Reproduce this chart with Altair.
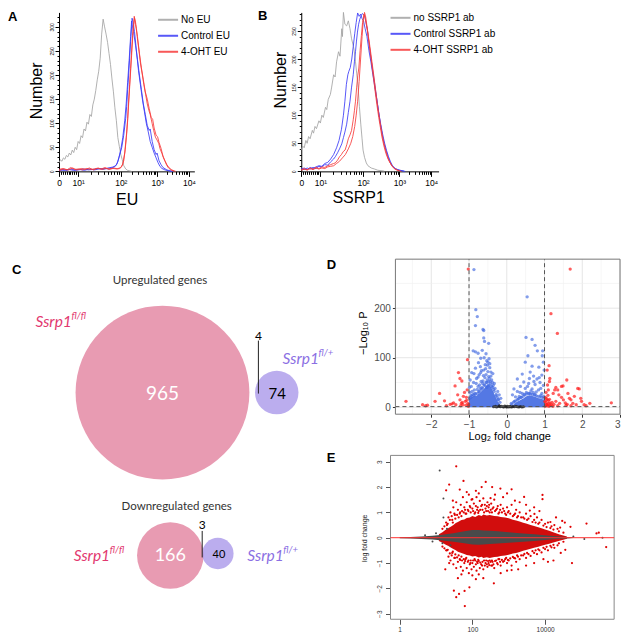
import math
import altair as alt
import pandas as pd

# ---------------- layout helpers (reference px -> chart px) ----------------
W, H = 613, 624


def X(px):
    return round((px - 3.0) * W / 625.0, 2)


def Y(py):
    return round((py - 4.0) * H / 636.0, 2)


SANS = "Liberation Sans"
VFONT = "Lato"

# ---------------- Panel A data : EU histograms (display channel, count) ----------------
A_NAMES = ["No EU", "Control EU", "4-OHT EU"]
B_NAMES = ["no SSRP1 ab", "Control SSRP1 ab", "4-OHT SSRP1 ab"]
FLOW_COLORS = ["#A3A3A3", "#3B3BF7", "#F73B3B"]

A_GRAY = [(0, 18), (1.5, 24), (3, 21), (4.5, 28), (6, 25), (7.5, 33), (9, 30), (10.5, 38), (12, 34),
          (13.5, 44), (15, 39), (16.5, 50), (18, 45), (19.5, 62), (21, 58), (22.5, 74), (24, 70),
          (25.5, 88), (27, 84), (28.5, 102), (30, 98), (31.5, 118), (33, 114), (34.5, 138), (36, 150),
          (37.5, 168), (39, 190), (40.5, 208), (42, 235), (43.5, 285), (45, 316), (46.5, 300), (48, 285),
          (49.5, 268), (51, 245), (52.5, 222), (54, 192), (55.5, 165), (57, 132), (58.5, 105), (60, 70),
          (61.5, 52), (63, 35), (64.5, 24), (66, 12), (68, 5), (70, 2), (74, 0)]
A_BLUE1 = [(0, 3), (5, 2), (10, 4), (15, 2), (20, 3), (25, 5), (30, 3), (35, 4), (40, 6), (45, 4), (50, 7),
           (55, 9), (58, 12), (60, 20), (62, 35), (64, 50), (66, 75), (68, 110), (69, 135), (70, 170),
           (71, 200), (72, 235), (73, 270), (74, 300), (74.5, 318), (75.5, 310), (77, 290), (79, 250),
           (81, 210), (83, 180), (85, 150), (87, 125), (89, 100), (91, 82), (93, 62), (95, 50), (97, 38),
           (99, 28), (101, 18), (103, 10), (105, 6), (108, 3), (112, 1), (116, 0)]
A_BLUE2 = [(0, 2), (4, 4), (8, 2), (12, 5), (16, 3), (21, 4), (26, 2), (31, 5), (36, 3), (41, 5), (46, 6),
           (51, 5), (55, 8), (57, 10), (59, 15), (61, 28), (63, 45), (65, 70), (67, 105), (68.5, 140),
           (70, 185), (71.5, 230), (73, 280), (74, 312), (75, 300), (76, 290), (78, 262), (80, 232),
           (82, 200), (84, 170), (86, 140), (88, 118), (90, 95), (92, 85), (93, 88), (95, 62), (97, 45),
           (99, 35), (100, 38), (102, 22), (104, 14), (106, 8), (110, 3), (115, 0)]
A_RED1 = [(0, 4), (4, 6), (8, 3), (12, 8), (16, 4), (20, 5), (24, 3), (28, 6), (32, 4), (36, 5), (40, 7),
          (44, 4), (48, 6), (52, 5), (56, 7), (60, 5), (62, 6), (64, 10), (66, 22), (67.5, 45), (69, 78),
          (70, 110), (71, 146), (72, 180), (73, 214), (74, 250), (75, 282), (76, 305), (76.7, 322),
          (78, 310), (79, 296), (80, 275), (81.7, 248), (83, 225), (85, 200), (86.5, 180), (88.3, 160),
          (90, 140), (91.7, 126), (93, 118), (95, 99), (96.5, 85), (98.3, 71), (100, 65), (101.7, 58),
          (103, 47), (105, 37), (106.5, 28), (108.3, 20), (110, 12), (111.7, 7), (114, 3), (117, 0.5)]
A_RED2 = [(0, 2), (5, 5), (10, 3), (14, 7), (18, 3), (23, 6), (27, 4), (31, 7), (35, 3), (39, 6), (43, 5),
          (47, 8), (51, 4), (55, 6), (59, 5), (63, 8), (65, 15), (67, 38), (68.5, 70), (70, 105), (71, 140),
          (72.5, 190), (74, 240), (75.5, 290), (77, 318), (78, 305), (80, 280), (82, 245), (84, 215),
          (86, 190), (88, 165), (90, 150), (92, 130), (94, 112), (95.5, 108), (97, 90), (99, 75),
          (100.5, 72), (102, 60), (104, 48), (106, 32), (108, 22), (110, 14), (112, 8), (115, 3), (119, 0)]

# ---------------- Panel B data : SSRP1 histograms ----------------
B_GRAY = [(0, 38), (1.5, 45), (3, 42), (4.7, 55), (6, 50), (7.5, 62), (9, 58), (11.3, 73), (12.5, 68),
          (14, 80), (15.5, 76), (18, 90), (19.5, 86), (21, 100), (22.5, 96), (24.7, 114), (26, 110),
          (27.5, 128), (29.7, 137), (31, 150), (33, 172), (34.5, 168), (36, 195), (38, 213), (39.5, 205),
          (41.3, 254), (42, 240), (43, 283), (44.5, 262), (46.3, 259), (48, 268), (49.7, 254), (51.3, 236),
          (53, 224), (54, 215), (55.3, 195), (56.5, 175), (58, 149), (59.3, 115), (60.7, 84), (62, 58),
          (63, 38), (64.5, 25), (66.3, 15), (68, 10), (71.3, 6), (75, 4), (78, 2), (84.7, 0.5)]
B_BLUE1 = [(0, 5), (3, 3), (6, 6), (9, 4), (12, 7), (15, 5), (18, 9), (21, 8), (24, 12), (27, 11), (30, 17),
           (33, 22), (34.7, 26), (37, 33), (39, 40), (41.3, 49), (43, 60), (44.5, 70), (46.3, 84), (48, 105),
           (49.7, 125), (51.3, 150), (53, 172), (54.2, 195), (55.3, 213), (56.3, 232), (57.3, 248),
           (58.5, 262), (59.7, 271), (61, 277), (62.3, 281), (63.5, 279), (64.7, 277), (66, 265),
           (67.3, 254), (68.5, 236), (69.7, 219), (71.3, 198), (73, 178), (74.7, 158), (76.3, 137),
           (78, 117), (79.7, 96), (81.3, 78), (83, 61), (84.7, 48), (86.3, 38), (88, 28), (89.7, 20),
           (91.3, 14), (93, 9), (95.5, 5), (98, 3), (104.7, 0.5)]
B_BLUE2 = [(0, 4), (3, 6), (6, 3), (9, 7), (12, 5), (15, 8), (18, 10), (21, 9), (24, 14), (27, 16), (30, 22),
           (33, 30), (36, 42), (38.5, 55), (41, 75), (43, 100), (44.5, 125), (46, 155), (47.5, 172),
           (48.5, 178), (50, 185), (51.5, 200), (53, 222), (54.5, 245), (56, 265), (57.5, 282), (59, 276),
           (60.5, 280), (62, 272), (63.5, 268), (65, 255), (67, 240), (69, 215), (71, 195), (73, 172),
           (75, 150), (77, 128), (79, 104), (81, 84), (83, 66), (85, 50), (87, 37), (89, 26), (91, 17),
           (93, 10), (96, 5), (100, 2), (106, 0)]
B_RED1 = [(0, 3), (3, 5), (6, 2), (9, 6), (12, 4), (15, 7), (18, 5), (21, 8), (24, 7), (27, 10), (30, 12),
          (33, 14), (34.7, 15), (37, 20), (39, 26), (41, 30), (42.7, 35), (44.7, 38), (46.5, 48), (48, 58),
          (49.7, 65), (51.3, 73), (53, 92), (54.2, 108), (55.3, 125), (56.5, 150), (57.6, 170),
          (58.7, 184), (60, 215), (61.3, 242), (62.5, 265), (64, 280), (65.2, 272), (66.3, 262),
          (67.7, 248), (69, 230), (70.5, 210), (72, 189), (73.7, 166), (75.3, 143), (77, 120), (79, 96),
          (80.7, 78), (82.3, 61), (84.3, 45), (86.3, 32), (88.5, 22), (90.7, 15), (92.7, 9), (94.7, 5),
          (97, 3), (99.7, 1)]
B_RED2 = [(0, 2), (3, 4), (6, 3), (9, 5), (12, 3), (15, 6), (18, 4), (21, 6), (24, 5), (27, 8), (30, 9),
          (33, 10), (36, 14), (39, 18), (42, 24), (45, 30), (48, 40), (50.5, 50), (52.5, 62), (54.5, 80),
          (56, 100), (57.5, 125), (59, 160), (60.5, 200), (62, 240), (63.3, 270), (64.5, 283), (65.7, 275),
          (67, 258), (68.5, 240), (70, 222), (72, 196), (74, 170), (76, 142), (78, 115), (80, 92), (82, 70),
          (84, 52), (86, 38), (88, 26), (90, 17), (92, 11), (95, 5), (98, 2), (102, 0)]

# flow axis ticks (display channel positions of 0, 10^1 ... 10^4)
FLOW_MAJOR = [0, 19.5, 63, 100, 132.5]
FLOW_LABELS = ["0", "10\u00b9", "10\u00b2", "10\u00b3", "10\u2074"]

# ---------------- Panel C data : Venn diagrams ----------------
VENN_GROUP = ["fl/fl", "fl/+", "fl/fl", "fl/+"]
VENN_SETSIZE = [969, 78, 169, 43]          # 965+4, 74+4, 166+3, 40+3
VENN_CX = [160.5, 277, 168.5, 217]
VENN_CY = [396, 396, 562, 560]
VENN_COUNTS = ["965", "74", "166", "40"]
VENN_COUNT_X = [160.5, 277.5, 168.5, 218]
VENN_COUNT_Y = [397, 397, 562.5, 561.5]
VENN_COUNT_SIZE = [19, 15, 18, 11]
VENN_COUNT_COLOR = ["white", "black", "white", "black"]
VENN_SHARED = ["4", "3"]
VENN_SHARED_X = [258.3, 201]
VENN_SHARED_Y = [338, 531]
VENN_SHARED_LINE_Y = [(343, 397), (537, 564)]
VENN_TITLES = ["Upregulated genes", "Downregulated  genes"]
VENN_TITLE_X = [158, 175]
VENN_TITLE_Y = [285, 516]
VENN_NAME_X = [31, 283, 70, 247]
VENN_NAME_Y = [329, 367, 568, 568]
VENN_SUP = ["fl/fl", "fl/+", "fl/fl", "fl/+"]

PANEL_LETTERS = ["A", "B", "C", "D", "E"]
LETTER_X = [3, 258, 7, 328, 328]
LETTER_Y = [17, 16, 275, 270, 467]

# ---------------- Panel D data : volcano plot (log2FC, -log10 P) ----------------
D_XDOM = [-2.95, 3.0]
D_YDOM = [-14, 299]
D_DENSE_LEFT_X = [-1.0, -0.95, -0.9, -0.85, -0.8, -0.75, -0.7, -0.65, -0.6, -0.55, -0.5, -0.45, -0.4,
                  -0.35, -0.3, -0.25, -0.2, -0.15, -0.1]
D_DENSE_LEFT_TOP = [16, 19, 21, 24, 23, 27, 30, 34, 37, 43, 47, 44, 38, 30, 21, 13, 7, 3, 1]
D_DENSE_RIGHT_X = [0.1, 0.15, 0.2, 0.25, 0.3, 0.35, 0.4, 0.45, 0.5, 0.55, 0.6, 0.65, 0.7, 0.75, 0.8,
                   0.85, 0.9, 0.95, 1.0]
D_DENSE_RIGHT_TOP = [1, 3, 7, 10, 12, 14, 16, 18, 21, 23, 24, 23, 22, 21, 19, 18, 17, 16, 15]
D_BLUE = [(-0.87, 278), (-0.82, 197), (-0.78, 183), (-0.83, 165), (-0.63, 157), (-0.61, 155), (-0.61, 140),
          (-0.59, 133), (-0.48, 129), (-0.89, 114), (-0.83, 112), (-0.76, 109), (-0.69, 99), (-0.5, 91),
          (-0.57, 86), (-0.61, 75), (-0.83, 79), (-0.87, 68), (-0.76, 61), (-0.69, 70), (-0.42, 71),
          (-0.37, 68), (-0.46, 58), (-0.63, 53), (-0.55, 50), (-0.81, 48), (-0.94, 42), (-0.92, 32),
          (-0.74, 32), (-0.33, 48), (-0.31, 38), (-0.24, 32), (-0.2, 25), (-0.16, 18), (-0.72, 45),
          (-0.68, 52), (-0.64, 48), (-0.58, 60), (-0.55, 66), (-0.52, 55), (-0.5, 72), (-0.48, 62),
          (-0.45, 80), (-0.44, 52), (-0.42, 63), (-0.4, 55), (-0.38, 50), (-0.36, 44), (-0.62, 64),
          (-0.66, 40), (-0.7, 38), (-0.78, 36), (-0.85, 28), (-0.9, 26), (-0.95, 24), (-0.98, 30),
          (-0.53, 94), (-0.47, 98), (-0.51, 85), (-0.56, 78), (-0.45, 88), (-0.6, 100), (-0.7, 82),
          (-0.75, 90), (-0.65, 115), (-0.55, 108), (-0.97, 55), (-0.93, 70), (-0.88, 50), (-0.8, 58),
          (-0.73, 66), (-0.67, 74), (-0.4, 42), (-0.35, 36), (-0.28, 26), (-0.25, 20), (-0.22, 15),
          (-0.53, 40), (-0.47, 45), (-0.6, 45), (-0.76, 42), (-0.86, 35), (-0.96, 20), (-0.99, 40),
          (-0.98, 18), (-0.93, 22), (-0.88, 24), (-0.83, 27), (-0.78, 28), (-0.73, 31), (-0.68, 35),
          (-0.63, 38), (-0.58, 44), (-0.53, 50), (-0.48, 52), (-0.43, 47), (-0.38, 40), (-0.33, 32),
          (-0.28, 23), (-0.23, 16), (-0.18, 10),
          (0.54, 223), (0.51, 141), (0.67, 137), (0.75, 125), (0.81, 114), (0.95, 114), (0.94, 104),
          (0.97, 91), (0.56, 104), (0.49, 91), (0.67, 83), (0.85, 81), (0.62, 71), (0.41, 67), (0.71, 63),
          (0.93, 65), (0.8, 57), (0.28, 57), (0.45, 51), (0.58, 48), (0.75, 46), (0.88, 50), (0.97, 44),
          (0.36, 42), (0.19, 37), (0.49, 38), (0.67, 37), (0.84, 35), (0.28, 32), (0.41, 28), (0.6, 28),
          (0.75, 26), (0.93, 28), (0.15, 25), (0.23, 21), (0.33, 22), (0.52, 30), (0.64, 33), (0.7, 30),
          (0.78, 31), (0.9, 24), (0.98, 22), (0.46, 26), (0.38, 20), (0.3, 17), (0.2, 12), (0.12, 8),
          (0.55, 42), (0.72, 52), (0.86, 60), (0.99, 75), (0.9, 38), (0.6, 58), (0.35, 30),
          (0.13, 5), (0.18, 10), (0.23, 13), (0.28, 15), (0.33, 18), (0.38, 20), (0.43, 22), (0.48, 25),
          (0.53, 27), (0.58, 28), (0.63, 27), (0.68, 26), (0.73, 25), (0.78, 23), (0.83, 22), (0.88, 21),
          (0.93, 20), (0.98, 19)]
D_RED = [(-2.67, 12), (-2.23, 5), (-2.15, 3), (-2.1, 4), (-1.9, 12), (-1.78, 28), (-1.65, 13), (-1.5, 6),
         (-1.45, 7), (-1.41, 9), (-1.37, 43), (-1.35, 5), (-1.3, 25), (-1.28, 70), (-1.24, 58), (-1.24, 15),
         (-1.22, 3), (-1.2, 8), (-1.19, 53), (-1.16, 5), (-1.15, 22), (-1.12, 30), (-1.1, 12), (-1.08, 4),
         (-1.07, 20), (-1.05, 35), (-1.04, 96), (-1.03, 8), (-1.02, 279), (-1.02, 2), (-1.6, 3), (-1.18, 10),
         (-1.06, 14), (-1.01, 5),
         (1.68, 279), (1.17, 189), (1.34, 149), (1.12, 84), (1.14, 58), (1.13, 52), (1.07, 75), (1.1, 35),
         (1.06, 15), (1.23, 28), (1.27, 35), (1.35, 35), (1.45, 42), (1.49, 43), (1.59, 55), (1.62, 28),
         (1.66, 18), (1.7, 15), (1.79, 22), (1.88, 38), (1.92, 37), (1.96, 18), (2.05, 5), (2.1, 3), (2.2, 8),
         (2.77, 9), (1.05, 5), (1.1, 8), (1.15, 4), (1.2, 10), (1.25, 6), (1.3, 12), (1.4, 8), (1.5, 15),
         (1.55, 9), (1.57, 4), (1.45, 20), (1.38, 25), (1.3, 40), (1.02, 20), (1.04, 30), (1.08, 45),
         (1.75, 8), (1.84, 5), (1.98, 12), (1.02, 2), (1.03, 10), (1.06, 6), (1.08, 3), (1.1, 14), (1.12, 2),
         (1.14, 9), (1.18, 5), (1.01, 12), (1.05, 18), (1.09, 24), (1.13, 16), (1.22, 2), (1.35, 3),
         (1.6, 6), (1.7, 3)]
D_BLACK = [(-0.35, 1), (-0.3, 2), (-0.27, 0.5), (-0.22, 1.5), (-0.2, 3), (-0.17, 0.8), (-0.14, 2), (-0.1, 1),
           (-0.08, 0.3), (-0.05, 2.5), (-0.02, 1), (0, 0.5), (0.02, 1.8), (0.05, 0.7), (0.08, 2.2), (0.1, 1),
           (0.13, 0.4), (0.16, 1.6), (0.2, 0.8), (0.24, 2), (0.28, 1), (0.32, 0.5), (0.36, 1.4), (0.4, 0.6),
           (0.44, 1)]
D_FC_CUT = [-1, 1]
D_P_CUT = 1.3
D_GRID_MAJOR_X = [-2, -1, 0, 1, 2, 3]
D_GRID_MINOR_X = [-2.5, -1.5, -0.5, 0.5, 1.5, 2.5]
D_GRID_MAJOR_Y = [0, 100, 200]
D_GRID_MINOR_Y = [50, 150, 250]

# ---------------- Panel E data : MA plot (mean expression, log fold change) ----------------
E_XDOM = [0.56, 794000]
E_YDOM = [-3.22, 3.25]
E_RED_DENSE_X = [12, 15, 18, 22, 26, 30, 35, 40, 50, 60, 70, 85, 100, 120, 150, 180, 200, 250, 300, 400,
                 500, 600, 800, 1000, 1300, 1600, 2000, 2500, 3000, 4000, 5000, 6500, 8000, 10000, 13000,
                 16000, 20000, 25000, 30000, 40000]
E_RED_DENSE_HI = [0.14, 0.22, 0.3, 0.38, 0.44, 0.5, 0.58, 0.62, 0.7, 0.72, 0.78, 0.8, 0.86, 0.82, 0.9, 0.86,
                  0.92, 0.88, 0.9, 0.86, 0.85, 0.82, 0.8, 0.77, 0.71, 0.68, 0.64, 0.59, 0.56, 0.5, 0.46, 0.41,
                  0.37, 0.32, 0.27, 0.23, 0.18, 0.13, 0.1, 0.05]
E_RED_DENSE_LO = [-0.13, -0.2, -0.27, -0.33, -0.4, -0.45, -0.5, -0.55, -0.6, -0.64, -0.68, -0.7, -0.74,
                  -0.72, -0.78, -0.75, -0.8, -0.77, -0.8, -0.76, -0.75, -0.72, -0.7, -0.67, -0.62, -0.6,
                  -0.56, -0.52, -0.49, -0.44, -0.4, -0.36, -0.32, -0.28, -0.24, -0.2, -0.16, -0.12, -0.09,
                  -0.04]
E_GRAY_CORE_X = [1, 2, 4, 8, 15, 30, 60, 100, 150, 200, 300, 500, 1000, 2000, 5000, 10000, 20000, 40000,
                 60000]
E_GRAY_CORE_HI = [0.02, 0.03, 0.05, 0.08, 0.12, 0.18, 0.25, 0.3, 0.3, 0.28, 0.27, 0.25, 0.22, 0.18, 0.14,
                  0.1, 0.06, 0.03, 0.01]
E_GRAY_CORE_LO = [-0.02, -0.03, -0.05, -0.07, -0.11, -0.16, -0.22, -0.27, -0.28, -0.27, -0.25, -0.23,
                  -0.2, -0.17, -0.13, -0.09, -0.05, -0.03, -0.01]
E_RED_PTS = [(20, 0.5), (22, 0.8), (25, 1.0), (28, 0.7), (30, 1.2), (33, 0.9), (36, 1.4), (40, 1.1),
             (45, 0.95), (48, 1.3), (52, 1.05), (55, 1.6), (60, 1.2), (65, 0.95), (70, 1.4), (75, 1.1),
             (80, 1.7), (85, 1.25), (90, 1.0), (95, 1.5), (100, 1.15), (110, 1.35), (120, 1.0), (130, 1.6),
             (140, 1.2), (150, 1.05), (160, 1.45), (175, 1.25), (190, 1.1), (200, 1.55), (220, 1.3),
             (240, 1.05), (260, 1.4), (280, 1.2), (300, 1.0), (330, 1.35), (360, 1.15), (400, 1.5),
             (450, 1.1), (500, 1.25), (550, 1.0), (600, 1.3), (700, 1.15), (800, 0.95), (900, 1.2),
             (1000, 1.05), (1200, 1.3), (1400, 0.9), (1600, 1.1), (1800, 0.85), (2000, 1.0), (2500, 0.8),
             (3000, 0.95), (3500, 0.75), (4000, 0.85), (5000, 0.7), (6000, 0.8), (7000, 0.6), (8000, 0.7),
             (10000, 0.55), (12000, 0.6), (15000, 0.45), (18000, 0.5), (22000, 0.35), (26000, 0.4),
             (36, 2.82), (57, 2.24), (23, 2.1), (233, 2.2), (19, 1.87), (590, 1.94), (1200, 1.91),
             (350, 2.0), (125, 1.85), (8500, 1.69), (8500, 1.52), (2650, 1.61), (29, 1.46), (100, 1.52),
             (316, 1.56), (1480, 1.46), (3800, 1.07), (5100, 0.94), (14000, 0.62), (29600, 0.66),
             (50000, 0.43), (138000, 0.56), (260000, 0.17), (300000, 0.2), (45, 1.9), (70, 1.8), (150, 1.75),
             (180, 2.0), (420, 1.7), (700, 1.6), (900, 1.75), (2000, 1.4), (3000, 1.3), (5000, 1.2),
             (7000, 1.05), (20000, 0.8), (35000, 0.6),
             (15, 0.35), (17, 0.45), (19, 0.6), (21, 0.55), (24, 0.7), (27, 0.85), (29, 0.6), (32, 0.95),
             (34, 0.75), (38, 0.9), (42, 0.8), (46, 1.0), (50, 0.85), (58, 1.0), (63, 1.1), (68, 0.95),
             (78, 1.05), (88, 1.2), (105, 1.05), (115, 0.95), (125, 1.25), (135, 1.1), (145, 0.98),
             (165, 1.1), (185, 1.3), (210, 1.0), (230, 1.15), (250, 1.25), (270, 1.05), (290, 1.3),
             (320, 1.1), (345, 1.0), (380, 1.2), (420, 1.05), (480, 1.15), (520, 0.95), (580, 1.1),
             (650, 1.0), (750, 1.05), (850, 0.9), (950, 1.0), (1100, 0.95), (1300, 0.85), (1500, 0.95),
             (1700, 0.8), (2200, 0.8), (2700, 0.75), (3200, 0.7), (4500, 0.62), (5500, 0.6), (6500, 0.55),
             (9000, 0.48), (11000, 0.42), (14000, 0.38), (17000, 0.32), (24000, 0.25), (32000, 0.2),
             (20, -0.5), (22, -0.75), (25, -0.9), (28, -0.6), (30, -1.05), (33, -0.8), (36, -1.2), (40, -0.95),
             (45, -0.85), (48, -1.15), (52, -0.9), (55, -1.3), (60, -1.0), (65, -0.85), (70, -1.2),
             (75, -0.95), (80, -1.4), (85, -1.05), (90, -0.9), (95, -1.25), (100, -1.0), (110, -1.15),
             (120, -0.9), (130, -1.3), (140, -1.0), (150, -0.92), (160, -1.2), (175, -1.05), (190, -0.95),
             (200, -1.25), (220, -1.1), (240, -0.9), (260, -1.15), (280, -1.0), (300, -0.9), (330, -1.1),
             (360, -0.95), (400, -1.2), (450, -0.9), (500, -1.05), (550, -0.85), (600, -1.1), (700, -0.95),
             (800, -0.85), (900, -1.0), (1000, -0.9), (1200, -1.1), (1400, -0.8), (1600, -0.95),
             (1800, -0.75), (2000, -0.85), (2500, -0.7), (3000, -0.8), (3500, -0.65), (4000, -0.72),
             (5000, -0.6), (6000, -0.65), (7000, -0.5), (8000, -0.58), (10000, -0.45), (12000, -0.5),
             (15000, -0.38), (18000, -0.4), (22000, -0.3),
             (15, -0.35), (17, -0.42), (19, -0.5), (21, -0.48), (24, -0.62), (27, -0.7), (29, -0.55),
             (32, -0.8), (34, -0.66), (38, -0.78), (42, -0.7), (46, -0.88), (50, -0.75), (58, -0.85),
             (63, -0.92), (68, -0.8), (78, -0.9), (88, -1.0), (105, -0.9), (115, -0.85), (125, -1.05),
             (135, -0.95), (145, -0.88), (165, -0.98), (185, -1.1), (210, -0.9), (230, -1.0), (250, -1.05),
             (270, -0.92), (290, -1.08), (320, -0.95), (345, -0.9), (380, -1.05), (420, -0.92), (480, -1.0),
             (520, -0.85), (580, -0.95), (650, -0.88), (750, -0.92), (850, -0.8), (950, -0.88), (1100, -0.82),
             (1300, -0.76), (1500, -0.82), (1700, -0.7), (2200, -0.7), (2700, -0.64), (3200, -0.6),
             (4500, -0.53), (5500, -0.5), (6500, -0.46), (9000, -0.4), (11000, -0.36), (14000, -0.32),
             (17000, -0.28), (24000, -0.22), (32000, -0.16),
             (62, -2.7), (36, -2.35), (43, -2.22), (61, -2.1), (31, -2.09), (83, -1.96), (390, -1.8),
             (125, -1.64), (100, -1.49), (18, -1.25), (23, -1.0), (1820, -1.25), (1200, -1.28), (350, -1.1),
             (55000, -1.0), (27000, -0.6), (36000, -0.48), (480000, -0.37), (17000, -0.9), (40, -1.6),
             (50, -1.45), (150, -1.45), (200, -1.6), (600, -1.4), (900, -1.3), (3000, -1.1), (5000, -1.0),
             (9000, -0.85), (12000, -0.95)]
E_GRAY_PTS = [(12.6, 2.65), (16, 1.55), (16, 0.8), (20, 0.35), (380000, 0.0), (5, 0.1), (8, -0.15),
              (10, 0.18), (15, -0.22), (25, -0.3), (60000, 0.05), (120000, -0.05)]


# ---------------- helpers ----------------
def pairs_df(pairs, **extra):
    df = pd.DataFrame(pairs, columns=["x", "y"])
    for k, v in extra.items():
        df[k] = v
    return df


def curves_df(curves):
    frames = []
    for series, rep, pts in curves:
        frames.append(pairs_df(pts, series=series, curve=f"{series}-{rep}"))
    return pd.concat(frames, ignore_index=True)


def flow_panel(df, names, x0, x1, xmax, ybot, ytop, ymax, ytick_max, xtitle, xt, ytitle_pos, legend_pos):
    major_test = "indexof([" + ",".join(str(v) for v in FLOW_MAJOR) + "], datum.value) >= 0"
    label_expr = " : ".join(f"datum.value == {v} ? '{l}'" for v, l in zip(FLOW_MAJOR, FLOW_LABELS)) + " : ''"
    minor = [round(1.95 * k, 2) for k in range(1, 10)]
    minor += [round(19.5 + 43.5 * math.log10(k), 2) for k in range(2, 10)]
    minor += [round(63 + 37 * math.log10(k), 2) for k in range(2, 10)]
    minor += [round(100 + 32.5 * math.log10(k), 2) for k in range(2, 10)]
    xticks = sorted(set(FLOW_MAJOR + minor))
    xaxis = alt.Axis(orient="bottom", offset=Y(ybot) - H, values=xticks, labelExpr=label_expr,
                     tickSize={"condition": {"test": major_test, "value": 5}, "value": 3},
                     tickColor="black", domainColor="black", labelColor="black", labelFont=SANS,
                     labelFontSize=8.5, labelPadding=2, labelOverlap=False, labelFlush=False, grid=False,
                     title=xtitle, titleFont=SANS, titleFontSize=16, titleFontWeight="normal",
                     titleColor="black", titleX=X(xt[0]), titleY=Y(xt[1]) - Y(ybot),
                     titleBaseline="middle", titleAlign="center")
    yaxis = alt.Axis(orient="left", offset=-X(x0), values=list(range(0, ytick_max + 1, 10)),
                     labelExpr="datum.value % 50 == 0 ? datum.label : ''",
                     tickSize={"condition": {"test": "datum.value % 50 == 0", "value": 4}, "value": 2},
                     tickColor="black", domainColor="black", labelColor="black", labelFont=SANS,
                     labelFontSize=5, labelAngle=270, labelAlign="center", labelBaseline="bottom",
                     labelPadding=1, labelOverlap=False, grid=False,
                     title="Number", titleFont=SANS, titleFontSize=16, titleFontWeight="normal",
                     titleColor="black", titleAngle=270, titleX=X(ytitle_pos[0]) - X(x0),
                     titleY=Y(ytitle_pos[1]), titleBaseline="middle", titleAlign="center")
    legend = alt.Legend(orient="none", legendX=X(legend_pos[0]), legendY=Y(legend_pos[1]) - 6, title=None,
                        symbolType="M-1,0H3", symbolSize=100, symbolStrokeWidth=2, labelFont=SANS,
                        labelFontSize=10, labelColor="black", rowPadding=5, labelOffset=12, padding=0,
                        labelLimit=200)
    return alt.Chart(df).mark_line(strokeWidth=1, opacity=0.85).encode(
        x=alt.X("x:Q", scale=alt.Scale(domain=[0, xmax], range=[X(x0), X(x1)], nice=False, zero=False),
                axis=xaxis),
        y=alt.Y("y:Q", scale=alt.Scale(domain=[0, ymax], range=[Y(ybot), Y(ytop)], nice=False, zero=False),
                axis=yaxis),
        color=alt.Color("series:N", scale=alt.Scale(domain=names, range=FLOW_COLORS), legend=legend),
        detail="curve:N",
    )


# ---------------- Panels A and B ----------------
dfA = curves_df([(A_NAMES[0], 1, A_GRAY), (A_NAMES[1], 1, A_BLUE1), (A_NAMES[1], 2, A_BLUE2),
                 (A_NAMES[2], 1, A_RED1), (A_NAMES[2], 2, A_RED2)])
dfB = curves_df([(B_NAMES[0], 1, B_GRAY), (B_NAMES[1], 1, B_BLUE1), (B_NAMES[1], 2, B_BLUE2),
                 (B_NAMES[2], 1, B_RED1), (B_NAMES[2], 2, B_RED2)])
panelA = alt.layer(flow_panel(dfA, A_NAMES, 55, 193, 138, 170.5, 8.5, 330, 320, "EU", (124, 199),
                              (32.5, 88), (155, 16)))
panelB = alt.layer(flow_panel(dfB, B_NAMES, 302, 442, 140, 170.5, 8.5, 283, 280, "SSRP1", (360, 197),
                              (281, 77), (392, 14)))

# ---------------- Page-space panel: Venn diagrams (C) and panel letters ----------------
pxs = alt.Scale(domain=[0, 629], range=[X(0), X(629)], nice=False, zero=False)
pys = alt.Scale(domain=[0, 640], range=[Y(0), Y(640)], nice=False, zero=False)
PX = lambda f: alt.X(f, scale=pxs, axis=None)
PY = lambda f: alt.Y(f, scale=pys, axis=None)

venn_df = pd.DataFrame({"g": VENN_GROUP, "n": VENN_SETSIZE, "x": VENN_CX, "y": VENN_CY})
size_scale = alt.Scale(type="pow", exponent=1.1, domain=[0, 969],
                       range=[0, math.pi * (100 * W / 625) * (100 * H / 636)])
pink_c = alt.Chart(venn_df).transform_filter("datum.g == 'fl/fl'").mark_circle(
    opacity=1, color="#E89BB2").encode(x=PX("x:Q"), y=PY("y:Q"),
                                        size=alt.Size("n:Q", scale=size_scale, legend=None))
purple_c = alt.Chart(venn_df).transform_filter("datum.g == 'fl/+'").mark_circle(
    opacity=0.68, color="#9B86E6").encode(x=PX("x:Q"), y=PY("y:Q"),
                                           size=alt.Size("n:Q", scale=size_scale, legend=None))

counts_df = pd.DataFrame({"t": VENN_COUNTS, "x": VENN_COUNT_X, "y": VENN_COUNT_Y,
                          "s": VENN_COUNT_SIZE, "c": VENN_COUNT_COLOR})
counts_t = alt.Chart(counts_df).mark_text(font=VFONT, baseline="middle", align="center").encode(
    x=PX("x:Q"), y=PY("y:Q"), text="t:N",
    size=alt.Size("s:Q", scale=None, legend=None),
    color=alt.Color("c:N", scale=None, legend=None))
shared_df = pd.DataFrame({"t": VENN_SHARED, "x": VENN_SHARED_X, "y": VENN_SHARED_Y,
                          "y0": [a for a, b in VENN_SHARED_LINE_Y], "y1": [b for a, b in VENN_SHARED_LINE_Y]})
shared_t = alt.Chart(shared_df).mark_text(font=VFONT, fontSize=12, baseline="middle", align="center",
                                          color="black").encode(x=PX("x:Q"), y=PY("y:Q"), text="t:N")
shared_l = alt.Chart(shared_df).mark_rule(color="#222222", strokeWidth=1).encode(
    x=PX("x:Q"), y=PY("y0:Q"), y2="y1:Q")
titles_df = pd.DataFrame({"t": VENN_TITLES, "x": VENN_TITLE_X, "y": VENN_TITLE_Y})
titles_t = alt.Chart(titles_df).mark_text(font=VFONT, fontSize=11.5, align="center", baseline="alphabetic",
                                          color="#333333").encode(x=PX("x:Q"), y=PY("y:Q"), text="t:N")
names_df = pd.DataFrame({"t": ["Ssrp1"] * 4, "x": VENN_NAME_X, "y": VENN_NAME_Y, "g": VENN_GROUP,
                         "sup": VENN_SUP})
name_color = alt.Color("g:N", scale=alt.Scale(domain=["fl/fl", "fl/+"], range=["#E2386F", "#8B6FE3"]),
                       legend=None)
names_t = alt.Chart(names_df).mark_text(font=VFONT, fontSize=15.5, fontStyle="italic", align="left",
                                        baseline="alphabetic").encode(
    x=PX("x:Q"), y=PY("y:Q"), text="t:N", color=name_color)
sups_t = alt.Chart(names_df).mark_text(font=VFONT, fontSize=9.5, fontStyle="italic", align="left",
                                       baseline="alphabetic", dx=36, dy=-8).encode(
    x=PX("x:Q"), y=PY("y:Q"), text="sup:N", color=name_color)
letters_df = pd.DataFrame({"t": PANEL_LETTERS, "x": LETTER_X, "y": LETTER_Y})
letters_t = alt.Chart(letters_df).mark_text(font=SANS, fontSize=13, fontWeight="bold", align="left",
                                            baseline="alphabetic", color="black").encode(
    x=PX("x:Q"), y=PY("y:Q"), text="t:N")
panelP = alt.layer(pink_c, purple_c, counts_t, shared_l, shared_t, titles_t, names_t, sups_t, letters_t)

# ---------------- Panel D : volcano ----------------
sxD = alt.Scale(domain=D_XDOM, range=[X(398), X(627)], nice=False, zero=False)
syD = alt.Scale(domain=D_YDOM, range=[Y(418), Y(260)], nice=False, zero=False)
axDx = alt.Axis(orient="bottom", offset=Y(418) - H, values=[-2, -1, 0, 1, 2, 3], domain=False, grid=False,
                tickSize=3, tickColor="#333333", labelColor="#4D4D4D", labelFont=SANS, labelFontSize=10,
                labelPadding=2, labelFlush=6, labelOverlap=False, title="Log\u2082 fold change",
                titleFont=SANS, titleFontSize=11, titleFontWeight="normal", titleColor="black",
                titleX=X(514), titleY=Y(441) - Y(418), titleBaseline="middle", titleAlign="center")
axDy = alt.Axis(orient="left", offset=-X(398), values=[0, 100, 200], domain=False, grid=False, tickSize=3,
                tickColor="#333333", labelColor="#4D4D4D", labelFont=SANS, labelFontSize=10, labelPadding=2,
                labelOverlap=False, title="\u2212Log\u2081\u2080 P", titleFont=SANS, titleFontSize=11,
                titleFontWeight="normal", titleColor="black", titleAngle=270, titleX=X(365) - X(398),
                titleY=Y(335), titleBaseline="middle", titleAlign="center")
DX = lambda f: alt.X(f, scale=sxD, axis=axDx)
DY = lambda f: alt.Y(f, scale=syD, axis=axDy)

vgrid = pd.DataFrame({"x": D_GRID_MAJOR_X + D_GRID_MINOR_X,
                      "k": ["major"] * len(D_GRID_MAJOR_X) + ["minor"] * len(D_GRID_MINOR_X)})
vgrid["y0"], vgrid["y1"] = D_YDOM[0], D_YDOM[1]
hgrid = pd.DataFrame({"y": D_GRID_MAJOR_Y + D_GRID_MINOR_Y,
                      "k": ["major"] * len(D_GRID_MAJOR_Y) + ["minor"] * len(D_GRID_MINOR_Y)})
hgrid["x0"], hgrid["x1"] = D_XDOM[0], D_XDOM[1]
grid_w = alt.StrokeWidth("k:N", scale=alt.Scale(domain=["major", "minor"], range=[1.0, 0.6]), legend=None)
grid_c = alt.Color("k:N", scale=alt.Scale(domain=["major", "minor"], range=["#E6E6E6", "#F0F0F0"]),
                   legend=None)
d_vgrid = alt.Chart(vgrid).mark_rule().encode(
    x=DX("x:Q"), y=DY("y0:Q"), y2="y1:Q", strokeWidth=grid_w, color=grid_c)
d_hgrid = alt.Chart(hgrid).mark_rule().encode(
    y=DY("y:Q"), x=DX("x0:Q"), x2="x1:Q", strokeWidth=grid_w, color=grid_c)
dense_df = pd.concat([
    pd.DataFrame({"x": D_DENSE_LEFT_X, "top": D_DENSE_LEFT_TOP, "side": "left"}),
    pd.DataFrame({"x": D_DENSE_RIGHT_X, "top": D_DENSE_RIGHT_TOP, "side": "right"})], ignore_index=True)
dense_df["base"] = 0
d_dense = alt.Chart(dense_df).mark_area(color="#4169E1", opacity=0.9).encode(
    x=DX("x:Q"), y=DY("top:Q"), y2="base:Q", detail="side:N")
d_blue = alt.Chart(pairs_df(D_BLUE)).mark_circle(color="#4169E1", size=11, opacity=0.65).encode(
    x=DX("x:Q"), y=DY("y:Q"))
d_red = alt.Chart(pairs_df(D_RED)).mark_circle(color="#FF1A1A", size=11, opacity=0.7).encode(
    x=DX("x:Q"), y=DY("y:Q"))
d_black = alt.Chart(pairs_df(D_BLACK)).mark_circle(color="#222222", size=9, opacity=0.8).encode(
    x=DX("x:Q"), y=DY("y:Q"))
cut_v = pd.DataFrame({"x": D_FC_CUT, "y0": D_YDOM[0], "y1": D_YDOM[1]})
cut_h = pd.DataFrame({"y": [D_P_CUT], "x0": [D_XDOM[0]], "x1": [D_XDOM[1]]})
d_cutv = alt.Chart(cut_v).mark_rule(color="#555555", strokeDash=[4, 3], strokeWidth=1).encode(
    x=DX("x:Q"), y=DY("y0:Q"), y2="y1:Q")
d_cuth = alt.Chart(cut_h).mark_rule(color="#555555", strokeDash=[4, 3], strokeWidth=1).encode(
    y=DY("y:Q"), x=DX("x0:Q"), x2="x1:Q")
box_d = pd.DataFrame({"x0": [D_XDOM[0]], "x1": [D_XDOM[1]], "y0": [D_YDOM[0]], "y1": [D_YDOM[1]]})
d_box = alt.Chart(box_d).mark_rect(fillOpacity=0, stroke="#777777", strokeWidth=1).encode(
    x=DX("x0:Q"), x2="x1:Q", y=DY("y0:Q"), y2="y1:Q")
panelD = alt.layer(d_vgrid, d_hgrid, d_dense, d_blue, d_red, d_black, d_cutv, d_cuth, d_box)

# ---------------- Panel E : MA plot ----------------
sxE = alt.Scale(type="log", domain=E_XDOM, range=[X(393), X(621)], nice=False)
syE = alt.Scale(domain=E_YDOM, range=[Y(627), Y(460)], nice=False, zero=False)
axEx = alt.Axis(orient="bottom", offset=Y(627) - H, values=[1, 100, 10000], format="d", domain=False,
                grid=False, tickSize=5, tickColor="#555555", labelColor="#333333", labelFont=SANS,
                labelFontSize=6.5, labelPadding=2, labelFlush=False, labelOverlap=False, title=None)
axEy = alt.Axis(orient="left", offset=-X(393), values=[-3, -2, -1, 0, 1, 2, 3], domain=False, grid=False,
                tickSize=5, tickColor="#555555", labelColor="#333333", labelFont=SANS, labelFontSize=6.5,
                labelAngle=270, labelAlign="center", labelBaseline="bottom", labelPadding=3,
                labelOverlap=False, title="log fold change", titleFont=SANS, titleFontSize=7,
                titleFontWeight="normal", titleColor="#222222", titleAngle=270, titleX=X(366) - X(393),
                titleY=Y(544), titleBaseline="middle", titleAlign="center")
EX = lambda f: alt.X(f, scale=sxE, axis=axEx)
EY = lambda f: alt.Y(f, scale=syE, axis=axEy)

box_e = pd.DataFrame({"x0": [E_XDOM[0]], "x1": [E_XDOM[1]], "y0": [E_YDOM[0]], "y1": [E_YDOM[1]]})
e_box = alt.Chart(box_e).mark_rect(fillOpacity=0, stroke="#888888", strokeWidth=1).encode(
    x=EX("x0:Q"), x2="x1:Q", y=EY("y0:Q"), y2="y1:Q")
e_red_area = alt.Chart(pd.DataFrame({"x": E_RED_DENSE_X, "hi": E_RED_DENSE_HI, "lo": E_RED_DENSE_LO})
                       ).mark_area(color="#D00000", opacity=0.95).encode(x=EX("x:Q"), y=EY("lo:Q"), y2="hi:Q")
e_red_pts = alt.Chart(pairs_df(E_RED_PTS)).mark_circle(color="#E00000", size=5, opacity=1).encode(
    x=EX("x:Q"), y=EY("y:Q"))
e_gray_area = alt.Chart(pd.DataFrame({"x": E_GRAY_CORE_X, "hi": E_GRAY_CORE_HI, "lo": E_GRAY_CORE_LO})
                        ).mark_area(color="#4A4A4A", opacity=1).encode(x=EX("x:Q"), y=EY("lo:Q"), y2="hi:Q")
e_gray_pts = alt.Chart(pairs_df(E_GRAY_PTS)).mark_circle(color="#4A4A4A", size=4, opacity=1).encode(
    x=EX("x:Q"), y=EY("y:Q"))
zero_line = pd.DataFrame({"y": [0], "x0": [E_XDOM[0]], "x1": [E_XDOM[1]]})
e_zero = alt.Chart(zero_line).mark_rule(color="#FF3030", strokeWidth=1.3, opacity=0.8).encode(
    y=EY("y:Q"), x=EX("x0:Q"), x2="x1:Q")
panelE = alt.layer(e_box, e_red_area, e_red_pts, e_gray_area, e_gray_pts, e_zero)

# ---------------- assemble ----------------
chart = alt.layer(panelP, panelA, panelB, panelD, panelE).resolve_scale(
    x="independent", y="independent", color="independent", size="independent", strokeWidth="independent"
).resolve_axis(x="independent", y="independent").resolve_legend(
    color="independent", size="independent", strokeWidth="independent"
).properties(
    width=W, height=H, autosize=alt.AutoSizeParams(type="none"), padding=0, background="white"
).configure_view(stroke=None)

chart.save("out.html", embed_options={"renderer": "svg", "actions": False})
